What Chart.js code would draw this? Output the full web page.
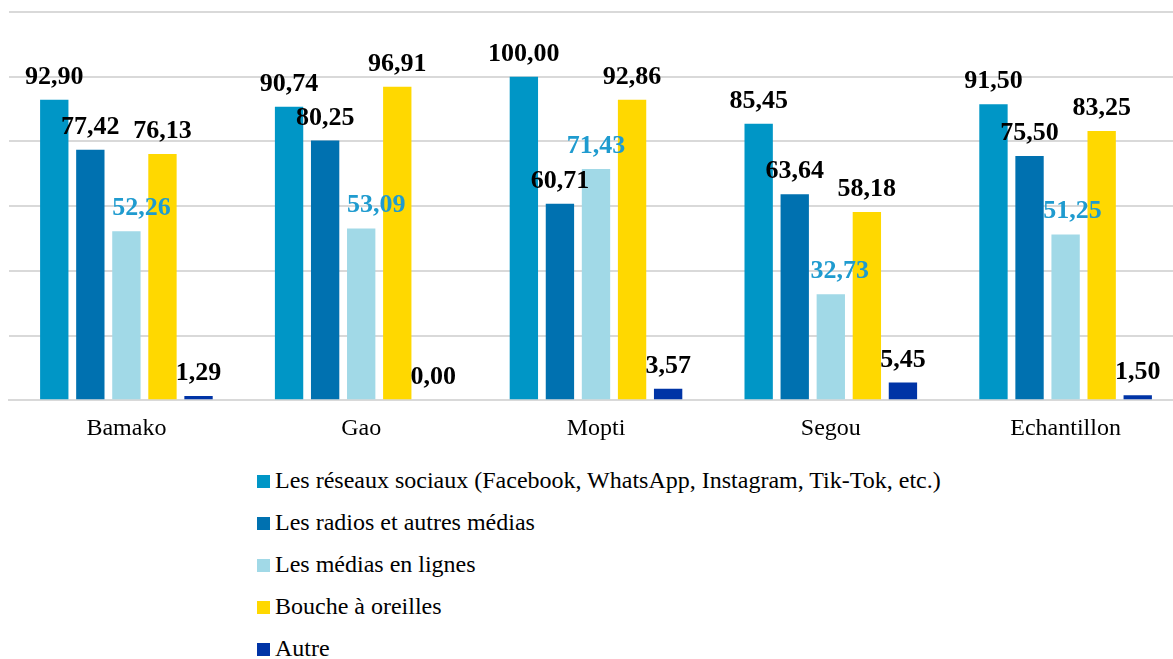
<!DOCTYPE html>
<html>
<head>
<meta charset="utf-8">
<script src="https://cdn.jsdelivr.net/npm/chart.js@4"></script>
<style>
    body { margin: 0; background: #fff; }
    #cadre { position: relative; width: 1173px; height: 659px; overflow: hidden; }
    #graphique { position: absolute; left: 0; top: 0; }
    #legende { position: absolute; left: 257px; top: 459px; font-size: 24px; font-family: "Liberation Serif", serif; color: #000; }
    #legende div { height: 42px; line-height: 42px; white-space: nowrap; }
    #legende span { display: inline-block; width: 13px; height: 13px; margin-right: 5px; vertical-align: 0px; }
</style>
</head>
<body>
<div id="cadre">
    <canvas id="graphique" width="1190" height="457"></canvas>
    <div id="legende"></div>
</div>
<script>
// Catégories (villes) et libellés des séries
const villes = ["Bamako", "Gao", "Mopti", "Segou", "Echantillon"];
const series = [
    "Les réseaux sociaux (Facebook, WhatsApp, Instagram, Tik-Tok, etc.)",
    "Les radios et autres médias",
    "Les médias en lignes",
    "Bouche à oreilles",
    "Autre"
];
// Valeurs (%) par série, dans l'ordre des villes
const reseauxSociaux = [92.90, 90.74, 100.00, 85.45, 91.50];
const radios = [77.42, 80.25, 60.71, 63.64, 75.50];
const mediasEnLigne = [52.26, 53.09, 71.43, 32.73, 51.25];
const boucheOreille = [76.13, 96.91, 92.86, 58.18, 83.25];
const autre = [1.29, 0.00, 3.57, 5.45, 1.50];
// Graduations de l'axe vertical
const yMin = 0, yMax = 120, yPas = 20;

const police = '"Liberation Serif", serif';
const couleurs = ["#0096c6", "#0071b0", "#a1d9e7", "#ffd800", "#0034a6"];
const couleursEtiquettes = ["#000", "#000", "#1f9bcf", "#000", "#000"];
// décalage horizontal des étiquettes déplacées à la main (série "médias en lignes")
const decalages = [[0,0,0,0,0], [0,0,0,0,0], [15,15,0,9,7], [0,0,0,0,0], [0,0,0,0,0]];

const valeurs = [reseauxSociaux, radios, mediasEnLigne, boucheOreille, autre];

// Plugin pour écrire la valeur au-dessus de chaque barre
const etiquettes = {
    id: "etiquettes",
    afterDatasetsDraw(chart) {
        const ctx = chart.ctx;
        ctx.save();
        ctx.font = "bold 26px " + police;
        ctx.textAlign = "center";
        ctx.textBaseline = "alphabetic";
        chart.data.datasets.forEach((ds, i) => {
            chart.getDatasetMeta(i).data.forEach((barre, j) => {
                ctx.fillStyle = couleursEtiquettes[i];
                const texte = ds.data[j].toFixed(2).replace(".", ",");
                ctx.fillText(texte, barre.x + decalages[i][j], barre.y - 16);
            });
        });
        ctx.restore();
    }
};

const data = {
    labels: villes,
    datasets: series.map((nom, i) => ({
        label: nom,
        data: valeurs[i],
        backgroundColor: couleurs[i],
        categoryPercentage: 0.768,
        barPercentage: 0.786
    }))
};

const config = {
    type: "bar",
    data: data,
    options: {
        responsive: false,
        animation: false,
        devicePixelRatio: 1,
        layout: { padding: { top: 12, left: 9, right: 7, bottom: 0 } },
        plugins: { legend: { display: false }, tooltip: { enabled: false } },
        scales: {
            x: {
                grid: { display: false, drawTicks: false },
                border: { color: "#d9d9d9", width: 2 },
                ticks: { color: "#000", font: { family: police, size: 24 }, padding: 14 }
            },
            y: {
                min: yMin,
                max: yMax,
                ticks: { display: false, stepSize: yPas },
                grid: { color: "#d9d9d9", lineWidth: 2, drawTicks: false },
                border: { display: false }
            }
        }
    },
    plugins: [etiquettes]
};

const graphique = new Chart(document.querySelector("#graphique"), config);

// Légende verticale sous le graphique
const legende = document.querySelector("#legende");
data.datasets.forEach(ds => {
    const ligne = document.createElement("div");
    const carre = document.createElement("span");
    carre.style.background = ds.backgroundColor;
    ligne.appendChild(carre);
    ligne.appendChild(document.createTextNode(ds.label));
    legende.appendChild(ligne);
});
</script>
</body>
</html>
